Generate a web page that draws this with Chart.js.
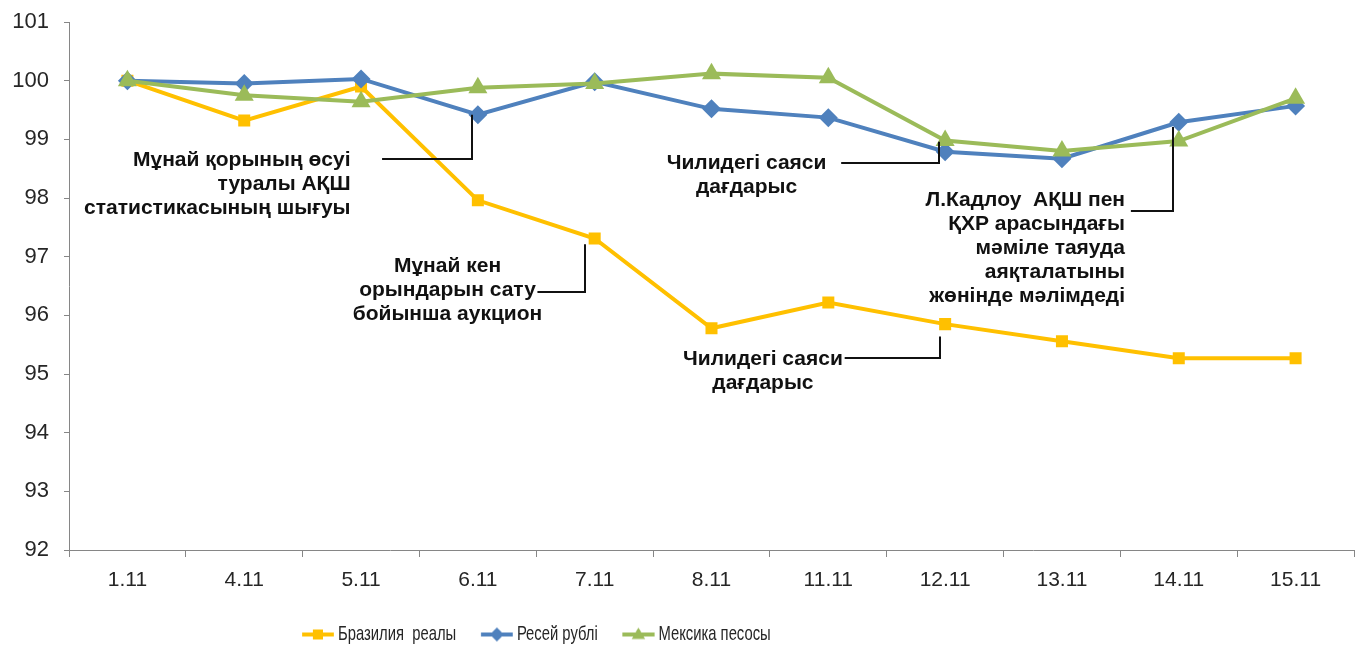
<!DOCTYPE html>
<html><head><meta charset="utf-8">
<script src="https://cdn.jsdelivr.net/npm/chart.js@4.4.1/dist/chart.umd.min.js"></script>
<style>html,body{margin:0;padding:0;background:#fff}#wrap{width:1365px;height:646px}</style>
</head><body><div id="wrap"><canvas id="c" width="1365" height="646"></canvas></div>
<script>
// ---- data ----
const categories = ['1.11','4.11','5.11','6.11','7.11','8.11','11.11','12.11','13.11','14.11','15.11'];
const brazilReal  = [100, 99.32, 99.90, 97.96, 97.31, 95.78, 96.22, 95.85, 95.56, 95.27, 95.27];
const russiaRuble = [100, 99.95, 100.03, 99.42, 99.98, 99.52, 99.37, 98.79, 98.67, 99.29, 99.57];
const mexicoPeso  = [100, 99.75, 99.64, 99.88, 99.95, 100.12, 100.05, 98.98, 98.80, 98.97, 99.70];
const seriesNames = ['Бразилия  реалы', 'Ресей рублі', 'Мексика песосы'];
const yTickMin = 92, yTickMax = 101, yTickStep = 1;

// ---- annotations (text + connector anchors in data coordinates) ----
const noteTexts = [
  ['Мұнай қорының өсуі', 'туралы АҚШ', 'статистикасының шығуы'],
  ['Мұнай кен', 'орындарын сату', 'бойынша аукцион'],
  ['Чилидегі саяси', 'дағдарыс'],
  ['Чилидегі саяси', 'дағдарыс'],
  ['Л.Кадлоу  АҚШ пен', 'ҚХР арасындағы', 'мәміле таяуда', 'аяқталатыны', 'жөнінде мәлімдеді']
];
const noteLineX    = [2.95, 3.92, 6.95, 6.96, 8.95];
const noteLineTop  = [99.42, 97.21, 98.96, 95.64, 99.21];
const noteElbow    = [98.67, 96.39, 98.60, 95.27, 97.77];
const noteLineLeft = [2.18, 3.51, 6.11, 6.14, 8.59];
const noteTextX    = [1.91, 2.74, 5.30, 5.44, 8.54];
const noteTextY    = [98.65, 96.83, 98.60, 95.25, 97.97];
const noteAlign    = ['right', 'center', 'center', 'center', 'right'];

const COLORS = ['#FFC000', '#4F81BD', '#9BBB59'];
const STYLES = ['rect', 'rectRot', 'triangle'];
const FONT = "'Liberation Sans', Arial, sans-serif";

// legend geometry (legend text is horizontally condensed like the original)
const LG_S = 0.705, LG_FS = 21, LG_PAD = 10, LG_A = 25;
const LG_LINE = 32 / LG_S;
const LG_B = LG_A + LG_LINE + 4 / LG_S - LG_FS / 2;
const LG_W = Math.ceil(2 * (LG_A + LG_LINE - LG_B / 2));
const LG_X0 = 302;

function drawMarker(g, style, x, y, rx, ry) {
  g.beginPath();
  if (style === 'rect') {
    g.rect(x - rx, y - ry, 2 * rx, 2 * ry);
  } else if (style === 'rectRot') {
    g.moveTo(x, y - ry); g.lineTo(x + rx, y); g.lineTo(x, y + ry); g.lineTo(x - rx, y);
  } else {
    g.moveTo(x, y - ry); g.lineTo(x + rx * 0.95, y + ry * 0.65); g.lineTo(x - rx * 0.95, y + ry * 0.65);
  }
  g.closePath(); g.fill();
}
function legendIcon(i) {
  const c = document.createElement('canvas');
  c.width = LG_W; c.height = 20;
  const g = c.getContext('2d');
  const x0 = LG_A - (LG_B / 2 - LG_W / 2);
  g.strokeStyle = COLORS[i]; g.fillStyle = COLORS[i]; g.lineWidth = 4;
  g.beginPath(); g.moveTo(x0, 10); g.lineTo(x0 + LG_LINE, 10); g.stroke();
  const r = i === 0 ? 5 : 7;
  drawMarker(g, STYLES[i], x0 + LG_LINE / 2, 10, r / LG_S, r);
  return c;
}
const icons = [0, 1, 2].map(legendIcon);

const notesPlugin = {
  id: 'notes',
  afterDatasetsDraw(chart) {
    const {ctx} = chart; const x = chart.scales.x, y = chart.scales.y;
    ctx.save();
    ctx.strokeStyle = '#111'; ctx.lineWidth = 2;
    for (let i = 0; i < noteTexts.length; i++) {
      const lx = Math.round(x.getPixelForValue(noteLineX[i]));
      const ty = y.getPixelForValue(noteLineTop[i]);
      const ey = Math.round(y.getPixelForValue(noteElbow[i]));
      const lfx = x.getPixelForValue(noteLineLeft[i]);
      ctx.beginPath(); ctx.moveTo(lx, ty); ctx.lineTo(lx, ey); ctx.lineTo(lfx, ey); ctx.stroke();
      ctx.font = 'bold 21px ' + FONT; ctx.fillStyle = '#111';
      ctx.textAlign = noteAlign[i]; ctx.textBaseline = 'middle';
      const tx = x.getPixelForValue(noteTextX[i]);
      const t0 = y.getPixelForValue(noteTextY[i]);
      noteTexts[i].forEach((s, k) => ctx.fillText(s, tx, t0 + k * 24));
    }
    ctx.restore();
  },
  beforeDraw(chart) {
    const lg = chart.legend; if (!lg) return;
    const lw = lg.lineWidths ? lg.lineWidths[0] : 0;
    const wantCenter = LG_X0 - LG_A - (LG_PAD - lw) / 2;
    const d = wantCenter - (lg.left + lg.right) / 2;
    lg.left += d; lg.right += d;
    const h = lg.bottom - lg.top;
    lg.top = 614; lg.bottom = lg.top + h;
    if (!lg._condensed) {
      const orig = lg.draw.bind(lg);
      lg.draw = function (area) {
        const c = chart.ctx;
        c.save(); c.translate(LG_X0, 0); c.scale(LG_S, 1); c.translate(-LG_X0, 0);
        orig(area);
        c.restore();
      };
      lg._condensed = true;
    }
  }
};

new Chart(document.getElementById('c'), {
  type: 'line',
  data: {
    labels: categories,
    datasets: [brazilReal, russiaRuble, mexicoPeso].map((d, i) => ({
      label: seriesNames[i], data: d,
      borderColor: COLORS[i], backgroundColor: COLORS[i],
      pointBackgroundColor: COLORS[i], pointBorderColor: COLORS[i], pointBorderWidth: 0,
      borderWidth: 4, pointStyle: STYLES[i], pointRadius: [8.5, 9.5, 11][i],
      tension: 0, order: 3 - i
    }))
  },
  options: {
    responsive: false, animation: false,
    layout: { padding: { top: 22, right: 9, left: 0, bottom: 0 } },
    plugins: {
      tooltip: { enabled: false },
      legend: {
        position: 'bottom', align: 'center',
        labels: {
          usePointStyle: true, pointStyleWidth: LG_B, boxHeight: 18, padding: LG_PAD,
          font: { family: FONT, size: LG_FS }, color: '#262626',
          generateLabels(chart) {
            return chart.data.datasets.map((ds, i) => ({
              text: ds.label, pointStyle: icons[i], fillStyle: COLORS[i], strokeStyle: COLORS[i],
              lineWidth: 0, hidden: false, datasetIndex: i, fontColor: '#262626'
            }));
          }
        }
      }
    },
    scales: {
      x: {
        offset: true,
        grid: { display: true, offset: true, drawOnChartArea: false, drawTicks: true, tickLength: 7, color: '#868686' },
        border: { display: true, color: '#868686', width: 1 },
        ticks: { font: { family: FONT, size: 21 }, color: '#262626', padding: 11, maxRotation: 0, autoSkip: false },
        afterFit(s) { s.height = 55; }
      },
      y: {
        min: yTickMin, max: yTickMax,
        grid: { display: true, drawOnChartArea: false, drawTicks: true, tickLength: 5, color: '#868686' },
        border: { display: true, color: '#868686', width: 1 },
        ticks: { stepSize: yTickStep, font: { family: FONT, size: 22 }, color: '#262626', padding: 15 },
        afterFit(s) { s.width = 69; s.paddingTop = 0; s.paddingBottom = 0; }
      }
    }
  },
  plugins: [notesPlugin]
});
</script></body></html>
